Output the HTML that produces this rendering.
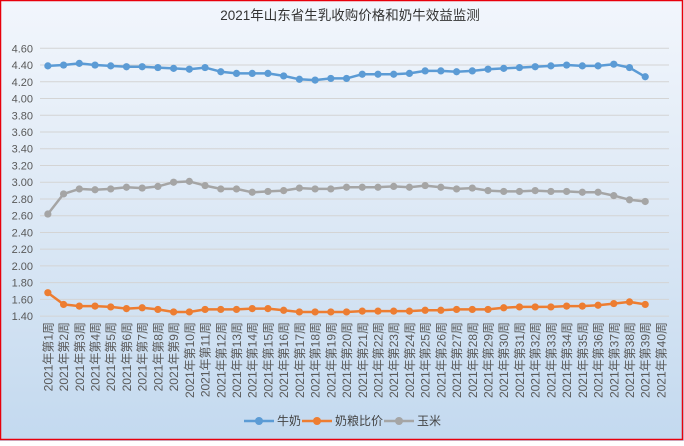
<!DOCTYPE html><html><head><meta charset="utf-8"><style>
html,body{margin:0;padding:0}
body{width:684px;height:441px;overflow:hidden;font-family:"Liberation Sans","Noto Sans CJK SC",sans-serif}
</style></head><body>
<svg id="s" width="684" height="441" xmlns="http://www.w3.org/2000/svg" font-family="Liberation Sans, Noto Sans CJK SC, sans-serif">
<defs><linearGradient id="g" x1="0" y1="0" x2="0" y2="1"><stop offset="0" stop-color="#f2f6fc"/><stop offset="0.5" stop-color="#dce8f5"/><stop offset="1" stop-color="#c3d9ef"/></linearGradient></defs>
<rect x="0" y="0" width="684" height="441" fill="url(#g)"/>
<rect x="0.5" y="0.5" width="682" height="439" fill="none" stroke="#e8000b" stroke-width="1.5"/>
<text x="350" y="20" text-anchor="middle" font-size="13.5" fill="#333">2021年山东省生乳收购价格和奶牛效益监测</text>
<g id="grid"></g><g id="lines"></g><g id="lab"></g>
<g font-size="12" fill="#444">
<line x1="244" y1="421" x2="274" y2="421" stroke="#5b9bd5" stroke-width="2.5"/><circle cx="259" cy="421" r="4" fill="#5b9bd5"/><text x="277" y="425">牛奶</text>
<line x1="302" y1="421" x2="332" y2="421" stroke="#ed7d31" stroke-width="2.5"/><circle cx="317" cy="421" r="4" fill="#ed7d31"/><text x="335" y="425">奶粮比价</text>
<line x1="384" y1="421" x2="414" y2="421" stroke="#a5a5a5" stroke-width="2.5"/><circle cx="399" cy="421" r="4" fill="#a5a5a5"/><text x="417" y="425">玉米</text>
</g>
</svg>
<script>
var NS="http://www.w3.org/2000/svg";
function el(p,t,a,txt){var e=document.createElementNS(NS,t);for(var k in a)e.setAttribute(k,a[k]);if(txt)e.textContent=txt;document.getElementById(p).appendChild(e);return e;}
function Y(v){return 48.3+(4.6-v)*83.7;}
function X(i){return 40+15.72*(i+0.5);}
for(var k=0;k<=16;k++){var v=4.6-k*0.2,y=Y(v);
el("grid","line",{x1:40,x2:669,y1:y,y2:y,stroke:"#d4d4d4","stroke-width":1});
el("grid","text",{x:33,y:y+4,"text-anchor":"end","font-size":"11",fill:"#595959"},v.toFixed(2));}
var milk=[4.39,4.40,4.42,4.40,4.39,4.38,4.38,4.37,4.36,4.35,4.37,4.32,4.30,4.30,4.30,4.27,4.23,4.22,4.24,4.24,4.29,4.29,4.29,4.30,4.33,4.33,4.32,4.33,4.35,4.36,4.37,4.38,4.39,4.40,4.39,4.39,4.41,4.37,4.26];
var corn=[2.62,2.86,2.92,2.91,2.92,2.94,2.93,2.95,3.00,3.01,2.96,2.92,2.92,2.88,2.89,2.90,2.93,2.92,2.92,2.94,2.94,2.94,2.95,2.94,2.96,2.94,2.92,2.93,2.90,2.89,2.89,2.90,2.89,2.89,2.88,2.88,2.84,2.79,2.77];
var rat=[1.68,1.54,1.52,1.52,1.51,1.49,1.50,1.48,1.45,1.45,1.48,1.48,1.48,1.49,1.49,1.47,1.45,1.45,1.45,1.45,1.46,1.46,1.46,1.46,1.47,1.47,1.48,1.48,1.48,1.50,1.51,1.51,1.51,1.52,1.52,1.53,1.55,1.57,1.54];
[[milk,"#5b9bd5"],[rat,"#ed7d31"],[corn,"#a5a5a5"]].forEach(function(s){
var pts=s[0].map(function(v,i){return X(i).toFixed(1)+","+Y(v).toFixed(1)}).join(" ");
el("lines","polyline",{points:pts,fill:"none",stroke:s[1],"stroke-width":2.5,"stroke-linejoin":"round"});
s[0].forEach(function(v,i){el("lines","circle",{cx:X(i),cy:Y(v),r:3.6,fill:s[1]});});});
for(var i=0;i<40;i++){var x=X(i)+4.5,y=322;
el("lab","text",{x:x,y:y,transform:"rotate(-90 "+x+" "+y+")","text-anchor":"end","font-size":"12",fill:"#595959"},"2021年第"+(i+1)+"周");}
</script>
</body></html>
